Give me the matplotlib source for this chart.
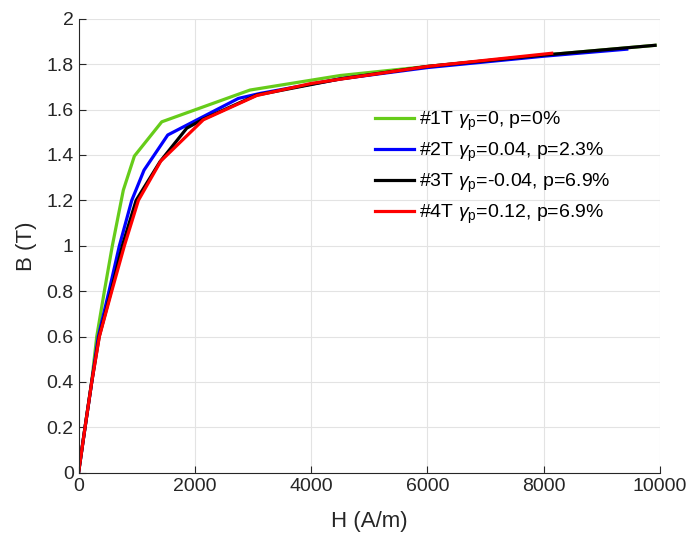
import matplotlib
matplotlib.use("Agg")
import matplotlib.pyplot as plt

plt.rcParams["font.family"] = ["Liberation Sans", "DejaVu Sans"]
plt.rcParams["mathtext.fontset"] = "custom"
plt.rcParams["mathtext.rm"] = "Liberation Sans"
plt.rcParams["mathtext.it"] = "Liberation Sans:italic"

# B-H curves
h_1t = [0, 110, 225, 313, 444, 581, 770, 960, 1431, 2949, 4500, 6000, 8000, 9914]
b_1t = [0, 0.2, 0.4, 0.6, 0.8, 1.0, 1.245, 1.395, 1.546, 1.686, 1.75, 1.79, 1.84, 1.883]

h_2t = [0, 112, 227, 340, 524, 702, 915, 1126, 1534, 2748, 3121, 4500, 6000, 8000, 9427]
b_2t = [0, 0.2, 0.4, 0.6, 0.8, 1.0, 1.2, 1.333, 1.488, 1.649, 1.671, 1.735, 1.785, 1.835, 1.866]

h_3t = [0, 112, 227, 355, 560, 753, 990, 1400, 1861, 2146, 3065, 4500, 6000, 8000, 9914]
b_3t = [0, 0.2, 0.4, 0.6, 0.8, 1.0, 1.2, 1.37, 1.518, 1.558, 1.664, 1.735, 1.79, 1.84, 1.883]

h_4t = [0, 112, 227, 358, 571, 788, 1029, 1414, 2146, 3065, 4000, 6000, 8137]
b_4t = [0, 0.2, 0.4, 0.6, 0.8, 1.0, 1.2, 1.373, 1.555, 1.662, 1.715, 1.79, 1.848]

labels = [
    r"#1T $\gamma_{\rm p}$=0, p=0%",
    r"#2T $\gamma_{\rm p}$=0.04, p=2.3%",
    r"#3T $\gamma_{\rm p}$=-0.04, p=6.9%",
    r"#4T $\gamma_{\rm p}$=0.12, p=6.9%",
]
colors = ["#66cc1a", "#0000ff", "#000000", "#ff0000"]

fig = plt.figure(figsize=(6.89, 5.36), dpi=100)
ax = fig.add_axes([0.114, 0.118, 0.844, 0.847])

curves = [(h_1t, b_1t), (h_2t, b_2t), (h_3t, b_3t), (h_4t, b_4t)]
for (h, b), c, lab in zip(curves, colors, labels):
    ax.plot(h, b, color=c, linewidth=2.3, label=lab)

ax.set_xlim(0, 10000)
ax.set_ylim(0, 2)
ax.set_xticks(range(0, 10001, 2000))
ax.set_yticks([i / 10 for i in range(0, 21, 2)])
ax.set_yticklabels(["0", "0.2", "0.4", "0.6", "0.8", "1", "1.2", "1.4", "1.6", "1.8", "2"])
ax.grid(True, color="#e3e3e3", linewidth=0.8)
ax.set_axisbelow(True)
for s in ["top", "right"]:
    ax.spines[s].set_visible(False)
for s in ["left", "bottom"]:
    ax.spines[s].set_color("#262626")
    ax.spines[s].set_linewidth(0.8)
ax.tick_params(direction="in", length=5, labelsize=14, colors="#262626", width=0.8)
ax.set_xlabel("H (A/m)", fontsize=16, color="#262626", labelpad=12)
ax.set_ylabel("B (T)", fontsize=16, color="#262626", labelpad=7)

leg = ax.legend(loc="upper left", bbox_to_anchor=(0.51, 0.80), frameon=False,
                fontsize=14, handlelength=2.0, handletextpad=0.25, labelspacing=0.4,
                borderpad=0, borderaxespad=0)

fig.savefig("out.png", dpi=100)
